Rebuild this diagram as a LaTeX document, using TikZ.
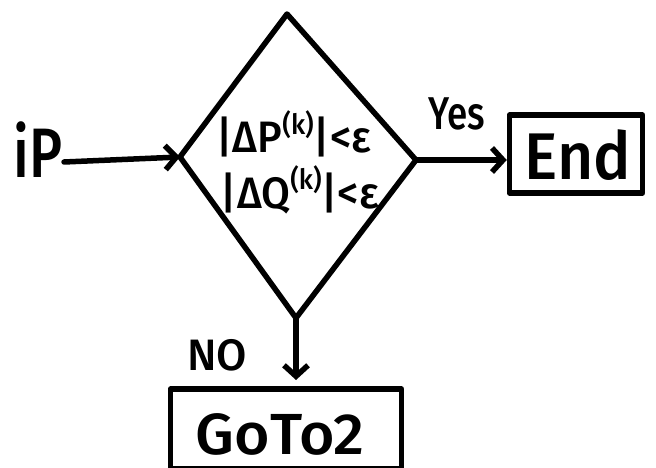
\documentclass[tikz,border=0pt]{standalone}
\usepackage{fontspec}
\setmainfont{Fira Sans}[BoldFont={Fira Sans Medium}]
\usetikzlibrary{arrows.meta}
\tikzset{
  stroke/.style={line width=5.5pt, line cap=round, line join=round},
  flow/.style={stroke, -{Straight Barb[length=11pt,width=24pt,line width=5.5pt]}},
  pen/.style={font=\fontsize{#1}{#1}\selectfont\bfseries, inner sep=0pt},
}
\newcommand{\supk}{\raisebox{0.8ex}{\fontsize{28}{28}\selectfont(k)}}
\begin{document}
\begin{tikzpicture}[x=1pt,y=-1pt]
  \useasboundingbox (0,0) rectangle (656,468);
  % decision diamond
  \coordinate (dtop) at (287,14);
  \coordinate (dleft) at (180,157);
  \coordinate (dright) at (416,160);
  \coordinate (dbot) at (296,318);
  \draw[stroke] (dtop) -- (dright) -- (dbot) -- (dleft) -- cycle;
  \node[pen=44, xscale=0.95] (c1) at (294,134) {|ΔP\supk|<ε};
  \node[pen=44, xscale=0.95] (c2) at (300,190) {|ΔQ\supk|<ε};
  % input
  \node[pen=70, xscale=0.8] (ip) at (38,150) {iP};
  \coordinate (ipend) at (64,162);
  \draw[flow] (ipend) -- (dleft);
  % yes branch
  \node[draw, stroke, minimum width=133pt, minimum height=78pt] (endbox) at (576,154) {};
  \node[pen=66, xscale=0.95] (endtxt) at (578,155) {End};
  \draw[flow] (dright) -- (endbox.west |- dright);
  \node[pen=46, xscale=0.8] (yes) at (457,114) {Yes};
  % no branch
  \node[draw, stroke, minimum width=231pt, minimum height=80pt] (gotobox) at (286,429) {};
  \node[pen=58, xscale=1.05] (gototxt) at (280,434) {GoTo2};
  \draw[flow] (dbot) -- ++(0,62) coordinate (nohead);
  \node[pen=44] (no) at (217,355) {NO};
\end{tikzpicture}
\end{document}
